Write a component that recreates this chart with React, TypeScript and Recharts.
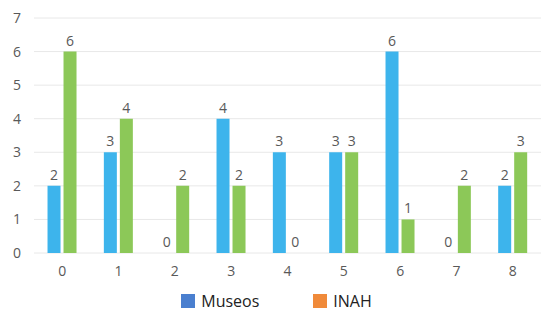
import React from 'react';
import { BarChart, Bar, XAxis, YAxis, CartesianGrid, Legend, LabelList } from 'recharts';

const categories = ['0', '1', '2', '3', '4', '5', '6', '7', '8'];
const museos = [2, 3, 0, 4, 3, 3, 6, 0, 2];
const inah = [6, 4, 2, 2, 0, 3, 1, 2, 3];
const yTicks = [0, 1, 2, 3, 4, 5, 6, 7];

const data = categories.map((c, i) => ({ cat: c, museos: museos[i], inah: inah[i] }));

const legendItems = [
  { name: 'Museos', color: '#4a7fcf' },
  { name: 'INAH', color: '#f08a3a' },
];

const font = '"Open Sans", "Noto Sans", sans-serif';
const textColor = '#595959';

const renderLegend = () => (
  <div style={{ display: 'flex', justifyContent: 'center', gap: 54, fontFamily: font, fontSize: 16, color: '#222', paddingLeft: 8, paddingTop: 2 }}>
    {legendItems.map((it) => (
      <div key={it.name} style={{ display: 'flex', alignItems: 'center' }}>
        <span style={{ display: 'inline-block', width: 14, height: 14, background: it.color, marginRight: 6 }} />
        <span>{it.name}</span>
      </div>
    ))}
  </div>
);

// draws the value above each bar, zeros included
const valueLabel = (props: any) => {
  const { x, y, width, value } = props;
  return (
    <text x={x + width / 2} y={y - 6} textAnchor="middle" fill={textColor} fontSize={14} fontFamily={font}>
      {value}
    </text>
  );
};

export default function App() {
  return (
    <div style={{ position: 'absolute', left: 0, top: 0, width: 546, height: 313, background: '#fff' }}>
      <BarChart
        width={546}
        height={313}
        data={data}
        margin={{ top: 18, right: 5, left: 4, bottom: 0 }}
        barGap={3}
        barCategoryGap="24%"
      >
        <CartesianGrid vertical={false} stroke="#e8e8e8" />
        <XAxis
          dataKey="cat"
          axisLine={false}
          tickLine={false}
          tick={{ fill: textColor, fontSize: 14, fontFamily: font }}
          tickMargin={7}
          height={35}
        />
        <YAxis
          domain={[0, 7]}
          ticks={yTicks}
          axisLine={false}
          tickLine={false}
          tick={{ fill: textColor, fontSize: 14, fontFamily: font }}
          width={30}
          tickMargin={7}
        />
        <Legend content={renderLegend} verticalAlign="bottom" height={25} />
        <Bar dataKey="museos" fill="#3db4ec" minPointSize={0.01} isAnimationActive={false}>
          <LabelList dataKey="museos" content={valueLabel} />
        </Bar>
        <Bar dataKey="inah" fill="#8cc858" minPointSize={0.01} isAnimationActive={false}>
          <LabelList dataKey="inah" content={valueLabel} />
        </Bar>
      </BarChart>
    </div>
  );
}
